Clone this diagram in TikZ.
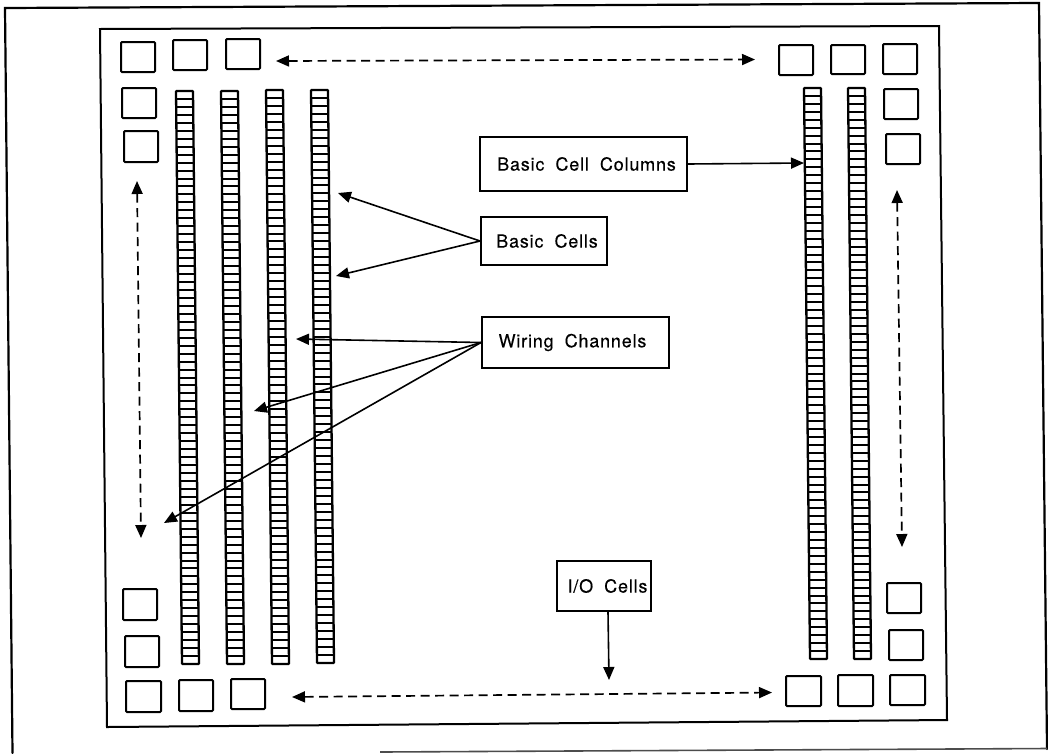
\documentclass[tikz,border=0pt]{standalone}
\usepackage{fontspec}
\setmainfont[LetterSpace=4.5,WordSpace=1.9,FakeBold=0.25]{TeX Gyre Heros}
\usetikzlibrary{arrows.meta}
\tikzset{
  frameline/.style={line width=2.2pt,line join=miter,line cap=round},
  sq/.style={draw,line width=2pt,rounded corners=1pt,inner sep=0pt},
  lbl/.style={draw,line width=2pt,inner sep=0pt,font=\fontsize{18}{21}\selectfont,text=black},
  conn/.style={line width=1.6pt,-{Triangle[length=13pt,width=11pt]}},
  dconn/.style={line width=1.7pt,{Triangle[length=13pt,width=11pt]}-{Triangle[length=13pt,width=11pt]},dash pattern=on 9pt off 5.5pt},
}
\newcommand{\sqbox}[5]{\node[sq,minimum width={#4-#2},minimum height={#5-#3}] (#1) at ({(#2+#4)/2},{(#3+#5)/2}) {};}
\newcommand{\lblbox}[6]{\node[lbl,minimum width={#4-#2},minimum height={#5-#3}] (#1) at ({(#2+#4)/2},{(#3+#5)/2}) {#6};}
\newcommand{\cellcol}[4]{%
  \foreach \i in {1,...,71}{
    \pgfmathsetmacro{\tf}{\i/72}
    \pgfmathsetmacro{\xa}{#1+(#3-#1)*\tf}
    \pgfmathsetmacro{\ya}{round(#2+(#4-#2)*\tf)}
    \draw[line width=1.7pt] (\xa,\ya) -- (\xa+17,\ya);
  }
  \draw[line width=2.3pt,rounded corners=0.8pt] (#1,#2) -- (#1+17,#2) -- (#3+17,#4) -- (#3,#4) -- cycle;}
\begin{document}
\begin{tikzpicture}[x=1pt,y=-1pt]
\useasboundingbox (0,0) rectangle (1048,753);
\fill[white] (0,0) rectangle (1048,753);
% outer frame (open at the lower left)
\draw[frameline] (12.5,753) -- (5,8) -- (1039,3) -- (1047,749);
\draw[line width=1.6pt,black!70] (380,752) -- (1047,748.5);
% inner frame
\draw[line width=2pt] (100,29) -- (939,26) -- (947,720) -- (107,727) -- cycle;
% I/O cells
\sqbox{a1}{121}{42}{155}{72}
\sqbox{a2}{173}{40}{207}{70}
\sqbox{a3}{226}{39}{260}{69}
\sqbox{l2}{122}{88}{156}{118}
\sqbox{l3}{124}{131}{158}{162}
\sqbox{l4}{123}{589}{157}{620}
\sqbox{l5}{125}{636}{159}{667}
\sqbox{b1}{126}{681}{161}{712}
\sqbox{b2}{179}{680}{213}{711}
\sqbox{b3}{231}{679}{265}{709}
\sqbox{t1}{779}{45}{813}{75}
\sqbox{t2}{831}{45}{865}{74}
\sqbox{t3}{883}{44}{917}{74}
\sqbox{r2}{884}{89}{918}{119}
\sqbox{r3}{886}{134}{920}{164}
\sqbox{r4}{887}{583}{921}{613}
\sqbox{r5}{889}{630}{923}{660}
\sqbox{s3}{890}{675}{925}{705}
\sqbox{s2}{838}{675}{873}{706}
\sqbox{s1}{786}{676}{821}{706}
% basic cell columns
\cellcol{176}{91}{182}{664}
\cellcol{221}{91}{227}{664}
\cellcol{266}{90}{272}{664}
\cellcol{311}{90}{317}{663}
\cellcol{804}{88}{810}{659}
\cellcol{848}{88}{854}{659}
% labels
\lblbox{bcc}{480}{137}{687}{191}{\kern6pt Basic Cell Columns}
\lblbox{bc}{481}{217}{607}{265}{\kern6pt Basic Cells}
\lblbox{wc}{482}{317}{669}{368}{Wiring Channels\kern6pt}
\lblbox{io}{557}{561}{651}{611}{\kern7pt I/O Cells}
% free ends
\coordinate (e1) at (804,163);
\coordinate (e2) at (338,193);
\coordinate (e3) at (336,276);
\coordinate (e4) at (296,339);
\coordinate (e5) at (254,411);
\coordinate (e6) at (164,523);
\coordinate (e7) at (609,680);
\coordinate (d1a) at (276,61);
\coordinate (d1b) at (755,59.5);
\coordinate (d2a) at (137,181);
\coordinate (d2b) at (141,538);
\coordinate (d3a) at (897,190);
\coordinate (d3b) at (902,547);
\coordinate (d4a) at (292,697);
\coordinate (d4b) at (772,692.5);
% connectors
\draw[conn] (bcc.east) -- (e1);
\draw[conn] (bc.west) -- (e2);
\draw[conn] (bc.west) -- (e3);
\draw[conn] (wc.west) -- (e4);
\draw[conn] (wc.west) -- (e5);
\draw[conn] (wc.west) -- (e6);
\draw[conn] ([xshift=4pt]io.south) -- (e7);
\draw[dconn] (d1a) -- (d1b);
\draw[dconn] (d2a) -- (d2b);
\draw[dconn] (d3a) -- (d3b);
\draw[dconn] (d4a) -- (d4b);
\end{tikzpicture}
\end{document}
